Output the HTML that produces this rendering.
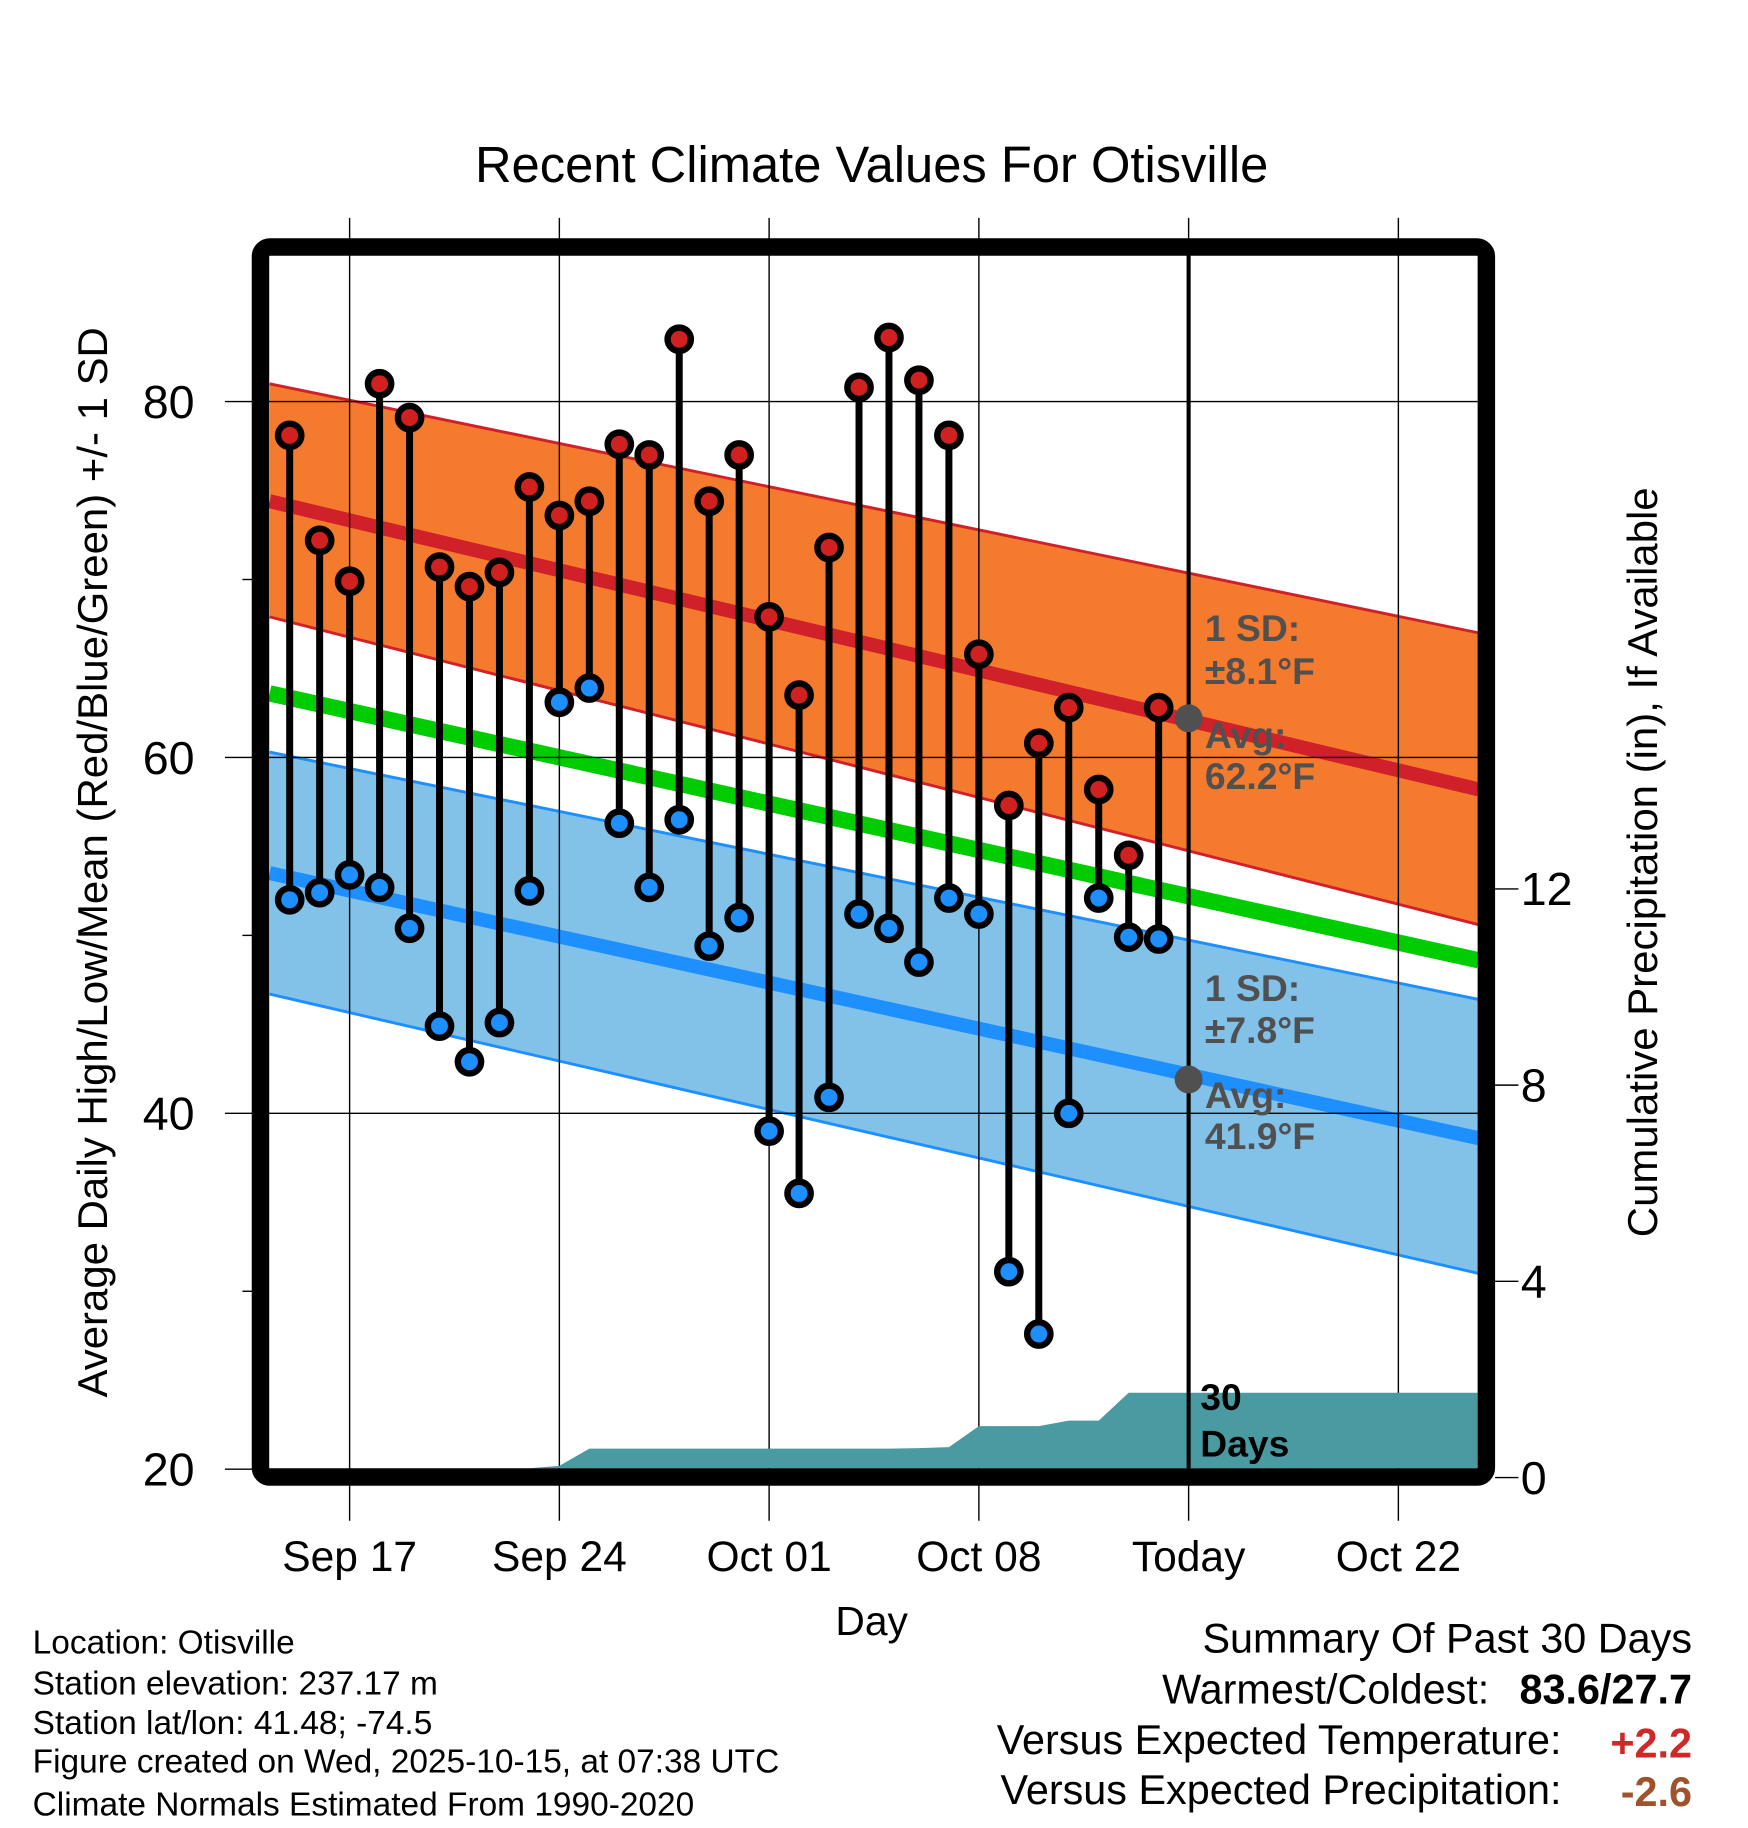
<!DOCTYPE html>
<html><head><meta charset="utf-8"><style>
html,body{margin:0;padding:0;background:#fff;}
svg{display:block;font-family:"Liberation Sans",sans-serif;}
</style></head><body>
<svg id="chart" width="1748" height="1828" viewBox="0 0 1500 1568.7" xmlns="http://www.w3.org/2000/svg">
<rect width="1500" height="1568.7" fill="#fff"/>
<g id="bands"></g>
<g id="grid"></g>
<g id="precip"></g>
<g id="stems"></g>
<g id="ann"></g>
<rect x="223.5" y="212" width="1052" height="1055.5" rx="8" fill="none" stroke="#000" stroke-width="15"/>
<g id="axes"></g>
<text x="748" y="156" font-size="43.5" text-anchor="middle">Recent Climate Values For Otisville</text>
<text transform="translate(92,740) rotate(-90)" font-size="36" text-anchor="middle">Average Daily High/Low/Mean (Red/Blue/Green) +/- 1 SD</text>
<text transform="translate(1422,740) rotate(-90)" font-size="36" text-anchor="middle">Cumulative Precipitation (in), If Available</text>
<text x="748" y="1403" font-size="35" text-anchor="middle">Day</text>
<g font-size="28.7">
<text x="28" y="1419">Location: Otisville</text>
<text x="28" y="1454">Station elevation: 237.17 m</text>
<text x="28" y="1488">Station lat/lon: 41.48; -74.5</text>
<text x="28" y="1521">Figure created on Wed, 2025-10-15, at 07:38 UTC</text>
<text x="28" y="1558">Climate Normals Estimated From 1990-2020</text>
</g>
<g font-size="35.5" text-anchor="end">
<text x="1452" y="1418">Summary Of Past 30 Days</text>
<text x="1278" y="1462">Warmest/Coldest:</text>
<text x="1452" y="1462" font-weight="bold">83.6/27.7</text>
<text x="1340" y="1505">Versus Expected Temperature:</text>
<text x="1452" y="1508" font-weight="bold" fill="#d02828">+2.2</text>
<text x="1340" y="1548">Versus Expected Precipitation:</text>
<text x="1452" y="1550" font-weight="bold" fill="#a0522d">-2.6</text>
</g>
</svg>
<script>
// day index: 0 = Sep 17
const days = [-2,-1,0,1,2,3,4,5,6,7,8,9,10,11,12,13,14,15,16,17,18,19,20,21,22,23,24,25,26,27];
const highs = [78.1,72.2,69.9,81.0,79.1,70.7,69.6,70.4,75.2,73.6,74.4,77.6,77.0,83.5,74.4,77.0,67.9,63.5,71.8,80.8,83.6,81.2,78.1,65.8,57.3,60.8,62.8,58.2,54.5,62.8];
const lows = [52.0,52.4,53.4,52.7,50.4,44.9,42.9,45.1,52.5,63.1,63.9,56.3,52.7,56.5,49.4,51.0,39.0,35.5,40.9,51.2,50.4,48.5,52.1,51.2,31.1,27.6,40.0,52.1,49.9,49.8];
const precip = [0,0,0,0,0,0,0,0,0,0.24,0.59,0.59,0.59,0.59,0.59,0.59,0.59,0.59,0.59,0.59,0.59,0.6,0.62,1.05,1.05,1.05,1.16,1.16,1.73,1.73];
// normals at plot left edge and right edge
const normDays = [-2.67, 37.68];
const highAvg = [74.4, 58.2];
const highUp = [81.0, 67.0];
const highLo = [67.9, 50.6];
const meanAvg = [63.6, 48.6];
const lowAvg = [53.5, 38.6];
const lowUp = [60.3, 46.4];
const lowLo = [46.7, 31.0];
const xTickDays = [0,7,14,21,28,35];
const xTickLabels = ["Sep 17","Sep 24","Oct 01","Oct 08","Today","Oct 22"];
const yTicks = [20,40,60,80];
const yMinor = [30,50,70];
const pTicks = [0,4,8,12];

const NS="http://www.w3.org/2000/svg";
const X = d => 300 + d*25.714;
const Y = t => 650 - (t-60)*15.27;
const P = p => 1268 - p*42.1;
const X0=231, X1=1268, YT=219, YB=1260;
function mk(parent,tag,attrs){const e=document.createElementNS(NS,tag);for(const k in attrs)e.setAttribute(k,attrs[k]);document.getElementById(parent).appendChild(e);return e;}

function band(up,lo,fill,edge,name){
  const pts=`${X(normDays[0])},${Y(up[0])} ${X(normDays[1])},${Y(up[1])} ${X(normDays[1])},${Y(lo[1])} ${X(normDays[0])},${Y(lo[0])}`;
  const e=mk('bands','polygon',{points:pts,fill:fill});
  
  
  [up,lo].forEach(a=>{const l=mk('bands','line',{x1:X(normDays[0]),y1:Y(a[0]),x2:X(normDays[1]),y2:Y(a[1]),stroke:edge,'stroke-width':2.5});
    
    });
}
band(highUp,highLo,'#f47a2e','#d0202a','high-sd-band');
band(lowUp,lowLo,'#82c1e8','#1e8fff','low-sd-band');
function nline(a,col,w,name){const l=mk('bands','line',{x1:X(normDays[0]),y1:Y(a[0]),x2:X(normDays[1]),y2:Y(a[1]),stroke:col,'stroke-width':w});
  
  }
nline(highAvg,'#d0202a',12,'high-normal-line');
nline(meanAvg,'#00cc00',14,'mean-normal-line');
nline(lowAvg,'#1e8fff',12,'low-normal-line');

xTickDays.forEach((d,i)=>{
  const l=mk('grid','line',{x1:X(d),y1:187,x2:X(d),y2:1305,stroke:'#000','stroke-width':1.2});
  
  
  const t=mk('axes','text',{x:X(d),y:1348,'font-size':36.5,'text-anchor':'middle'});
  t.textContent=xTickLabels[i];
  
  
});
yTicks.forEach(v=>{
  const l=mk('grid','line',{x1:193,y1:Y(v),x2:X1,y2:Y(v),stroke:'#000','stroke-width':1.2});
  
  
  const t=mk('axes','text',{x:167,y:Y(v)+14,'font-size':40,'text-anchor':'end'});
  t.textContent=v;
  
  
});
yMinor.forEach(v=>{
  const l=mk('axes','line',{x1:208,y1:Y(v),x2:218,y2:Y(v),stroke:'#000','stroke-width':1.2});
  
  
});
pTicks.forEach(v=>{
  const l=mk('axes','line',{x1:1283,y1:P(v),x2:1303,y2:P(v),stroke:'#000','stroke-width':1.2});
  
  
  const t=mk('axes','text',{x:1305,y:P(v)+14,'font-size':40});
  t.textContent=v;
  
  
});

let pp=`${X(days[0])},${YB} `;
days.forEach((d,i)=>{pp+=`${X(d)},${Math.min(P(precip[i]),YB)} `;});
pp+=`${X1},${P(precip[precip.length-1])} ${X1},${YB}`;
const pa=mk('precip','polygon',{points:pp,fill:'#4a9aa2'});



const tl=mk('precip','line',{x1:X(28),y1:YT,x2:X(28),y2:YB,stroke:'#000','stroke-width':3.5});



days.forEach((d,i)=>{
  const s=mk('stems','line',{x1:X(d),y1:Y(highs[i]),x2:X(d),y2:Y(lows[i]),stroke:'#000','stroke-width':6});
  
  
});
days.forEach((d,i)=>{
  const h=mk('stems','circle',{cx:X(d),cy:Y(highs[i]),r:10,fill:'#d02020',stroke:'#000','stroke-width':5.5});
  
  
  const l=mk('stems','circle',{cx:X(d),cy:Y(lows[i]),r:10,fill:'#1e8fff',stroke:'#000','stroke-width':5.5});
  
  
});

[[62.2,'high-avg-dot'],[41.9,'low-avg-dot']].forEach(a=>{
  const c=mk('ann','circle',{cx:X(28),cy:Y(a[0]),r:12,fill:'#505050'});
  
  
});
const labels=[[1034,550,'1 SD:','#505050'],[1034,587,'±8.1°F','#505050'],[1034,642,'Avg:','#505050'],[1034,677,'62.2°F','#505050'],
[1034,859,'1 SD:','#505050'],[1034,895,'±7.8°F','#505050'],[1034,951,'Avg:','#505050'],[1034,986,'41.9°F','#505050'],
[1030,1210,'30','#000'],[1030,1250,'Days','#000']];
labels.forEach(a=>{
  const t=mk('ann','text',{x:a[0],y:a[1],'font-size':32,'font-weight':'bold',fill:a[3]});
  t.textContent=a[2];
  
  
});
</script>
</body></html>
